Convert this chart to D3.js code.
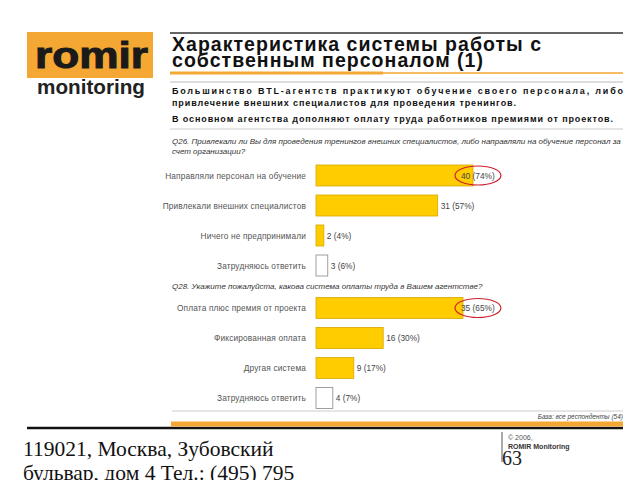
<!DOCTYPE html>
<html>
<head>
<meta charset="utf-8">
<script src="https://cdn.jsdelivr.net/npm/d3@7"></script>
<style>
  body { margin: 0; background: #fff; }
  svg { display: block; font-family: "Liberation Sans", Arial, sans-serif; }
</style>
</head>
<body>
<div id="slide"></div>
<script>
// ---- data ----
var q26Labels = ["Направляли персонал на обучение", "Привлекали внешних специалистов", "Ничего не предпринимали", "Затрудняюсь ответить"];
var q26Counts = [40, 31, 2, 3];
var q26Pcts = [74, 57, 4, 6];

var q28Labels = ["Оплата плюс премия от проекта", "Фиксированная оплата", "Другая система", "Затрудняюсь ответить"];
var q28Counts = [35, 16, 9, 4];
var q28Pcts = [65, 30, 17, 7];

var titleLines = ["Характеристика системы работы с", "собственным персоналом (1)"];
var summaryLines = [
    "Большинство BTL-агентств практикуют обучение своего персонала, либо",
    "привлечение внешних специалистов для проведения тренингов.",
    "В основном агентства дополняют оплату труда работников премиями от проектов."
];
var q26Question = ["Q26. Привлекали ли Вы для проведения тренингов внешних специалистов, либо направляли на обучение персонал за", "счет организации?"];
var q28Question = ["Q28. Укажите пожалуйста, какова система оплаты труда в Вашем агентстве?"];
var baseNote = "База: все респонденты (54)";
var addressLines = ["119021, Москва, Зубовский", "бульвар, дом 4 Тел.: (495) 795"];
var pageNumber = "63";

var W = 640, H = 480;
var orange = "#f5a733";
var gold = "#ffcc00";

var svg = d3.select("#slide").append("svg")
    .attr("width", W)
    .attr("height", H);

// logo
svg.append("rect")
    .attr("x", 27).attr("y", 32)
    .attr("width", 126).attr("height", 46)
    .attr("fill", orange);
svg.append("text")
    .attr("x", 35).attr("y", 68)
    .attr("textLength", 113).attr("lengthAdjust", "spacingAndGlyphs")
    .style("font-size", "36px").style("font-weight", "bold")
    .attr("fill", "#1a1a1a")
    .attr("stroke", "#1a1a1a").attr("stroke-width", 1)
    .text("romir");
svg.append("text")
    .attr("x", 37).attr("y", 94)
    .attr("textLength", 108).attr("lengthAdjust", "spacingAndGlyphs")
    .style("font-size", "20px").style("font-weight", "bold")
    .attr("fill", "#222")
    .text("monitoring");

// title block
svg.append("line")
    .attr("x1", 170).attr("x2", 623).attr("y1", 33).attr("y2", 33)
    .attr("stroke", "#333").attr("stroke-width", 1.5);

var titleWidths = [369, 311];
svg.selectAll(".title").data(titleLines).enter()
    .append("text")
    .attr("class", "title")
    .attr("x", 172)
    .attr("y", function(d, i){ return 51 + i * 15.5; })
    .attr("textLength", function(d, i){ return titleWidths[i]; })
    .attr("lengthAdjust", "spacing")
    .style("font-size", "19.5px").style("font-weight", "bold")
    .attr("fill", "#111")
    .text(function(d){ return d; });

svg.append("line")
    .attr("x1", 170).attr("x2", 623).attr("y1", 73).attr("y2", 73)
    .attr("stroke", orange).attr("stroke-width", 1.5);
svg.append("line")
    .attr("x1", 170).attr("x2", 383).attr("y1", 73).attr("y2", 73)
    .attr("stroke", orange).attr("stroke-width", 3);
svg.append("line")
    .attr("x1", 170).attr("x2", 623).attr("y1", 82).attr("y2", 82)
    .attr("stroke", "#bbb").attr("stroke-width", 1);

var summaryY = [94, 106, 122];
var summaryWidths = [451, 344, 441];
svg.selectAll(".summary").data(summaryLines).enter()
    .append("text")
    .attr("class", "summary")
    .attr("x", 172)
    .attr("y", function(d, i){ return summaryY[i]; })
    .attr("textLength", function(d, i){ return summaryWidths[i]; })
    .attr("lengthAdjust", "spacing")
    .style("font-size", "9px").style("font-weight", "bold")
    .attr("fill", "#111")
    .text(function(d){ return d; });

svg.append("line")
    .attr("x1", 170).attr("x2", 623).attr("y1", 129).attr("y2", 129)
    .attr("stroke", "#ccc").attr("stroke-width", 1);

/**
 * Draws one horizontal bar chart block for a question
 */
function drawQuestion(question, qY, labels, counts, pcts, top, width){
    var g = svg.append("g");

    g.selectAll(".q").data(question).enter()
        .append("text")
        .attr("x", 172)
        .attr("y", function(d, i){ return qY + i * 10; })
        .style("font-size", "8px").style("font-style", "italic")
        .attr("fill", "#333")
        .text(function(d){ return d; });

    var x = d3.scaleLinear()
        .domain([0, d3.max(counts)])
        .range([316, 316 + width]);

    var y = d3.scaleBand()
        .domain(labels)
        .range([top, top + 120])
        .paddingInner(0.3)
        .paddingOuter(0.15);

    var rows = labels.map(function(l, i){
        return {label: l, count: counts[i], pct: pcts[i], idx: i};
    });

    g.selectAll("rect").data(rows).enter()
        .append("rect")
        .attr("x", x(0))
        .attr("y", function(d){ return y(d.label); })
        .attr("width", function(d){ return x(d.count) - x(0); })
        .attr("height", y.bandwidth())
        .attr("fill", function(d){ return d.label == "Затрудняюсь ответить" ? "#fff" : gold; })
        .attr("stroke", function(d){ return d.label == "Затрудняюсь ответить" ? "#888" : "#d4a800"; })
        .attr("stroke-width", 0.8);

    g.selectAll(".cat").data(rows).enter()
        .append("text")
        .attr("class", "cat")
        .attr("x", 306)
        .attr("y", function(d){ return y(d.label) + y.bandwidth() / 2 + 3; })
        .attr("text-anchor", "end")
        .style("font-size", "8.3px")
        .style("letter-spacing", "0.15px")
        .attr("fill", "#555")
        .text(function(d){ return d.label; });

    var vals = g.selectAll(".val").data(rows).enter()
        .append("text")
        .attr("class", "val")
        .attr("x", function(d){ return Math.min(x(d.count) + 3, 461); })
        .attr("y", function(d){ return y(d.label) + y.bandwidth() / 2 + 3; })
        .style("font-size", "8.3px")
        .attr("fill", "#444")
        .text(function(d){ return d.count + " (" + d.pct + "%)"; });

    // red ring round the leading answer
    vals.filter(function(d){ return d.idx == 0; }).each(function(){
        var b = this.getBBox();
        g.append("ellipse")
            .attr("cx", b.x + b.width / 2)
            .attr("cy", b.y + b.height / 2)
            .attr("rx", b.width / 2 + 6)
            .attr("ry", 9.5)
            .attr("fill", "none")
            .attr("stroke", "#d02030")
            .attr("stroke-width", 1.2);
    });
}

drawQuestion(q26Question, 144, q26Labels, q26Counts, q26Pcts, 160.5, 157);
drawQuestion(q28Question, 289, q28Labels, q28Counts, q28Pcts, 293, 147);

// bottom rules and base note
svg.append("line")
    .attr("x1", 172).attr("x2", 623).attr("y1", 411).attr("y2", 411)
    .attr("stroke", "#ccc").attr("stroke-width", 1);
svg.append("text")
    .attr("x", 623).attr("y", 419)
    .attr("text-anchor", "end")
    .style("font-size", "6.5px").style("font-style", "italic")
    .attr("fill", "#444")
    .text(baseNote);
svg.append("line")
    .attr("x1", 27).attr("x2", 623).attr("y1", 428).attr("y2", 428)
    .attr("stroke", "#111").attr("stroke-width", 2.5);
svg.append("rect")
    .attr("x", 171).attr("y", 421.5)
    .attr("width", 452).attr("height", 5)
    .attr("fill", orange);

// footer
svg.selectAll(".addr").data(addressLines).enter()
    .append("text")
    .attr("class", "addr")
    .attr("x", 23)
    .attr("y", function(d, i){ return 456 + i * 24; })
    .style("font-family", "'Liberation Serif', 'Times New Roman', serif")
    .style("font-size", "21.5px")
    .attr("fill", "#111")
    .text(function(d){ return d; });

svg.append("line")
    .attr("x1", 502).attr("x2", 502).attr("y1", 432).attr("y2", 462)
    .attr("stroke", "#555").attr("stroke-width", 1);
svg.append("text")
    .attr("x", 508).attr("y", 440)
    .style("font-size", "7px")
    .attr("fill", "#555")
    .text("© 2006,");
svg.append("text")
    .attr("x", 508).attr("y", 449)
    .style("font-size", "7px").style("font-weight", "bold")
    .attr("fill", "#333")
    .text("ROMIR Monitoring");
svg.append("text")
    .attr("x", 502).attr("y", 465)
    .style("font-family", "'Liberation Serif', 'Times New Roman', serif")
    .style("font-size", "20px")
    .attr("fill", "#222")
    .text(pageNumber);
</script>
</body>
</html>
